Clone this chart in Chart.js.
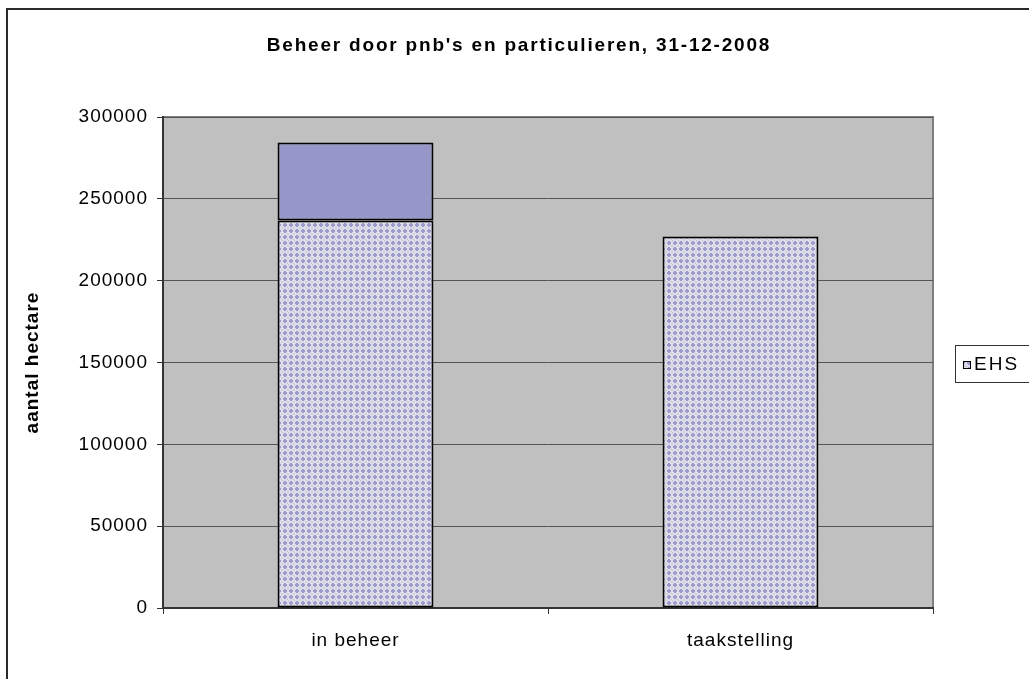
<!DOCTYPE html>
<html>
<head>
<meta charset="utf-8">
<style>
  html, body { margin: 0; padding: 0; background: #fff; }
  #wrap { width: 1029px; height: 679px; position: relative; }
</style>
<script src="https://cdn.jsdelivr.net/npm/chart.js@4/dist/chart.umd.min.js"></script>
</head>
<body>
<div id="wrap"><canvas id="chart" width="1029" height="679"></canvas></div>
<script>
// data
const categories = ['in beheer', 'taakstelling'];
const ehsValues = [236800, 227000];
const extraValues = [47600, 0];
const yTicks = [0, 50000, 100000, 150000, 200000, 250000, 300000];
const chartTitle = "Beheer door pnb's en particulieren, 31-12-2008";

const FONT = "'Liberation Sans', Arial, sans-serif";

// small lavender checker like the excel fill
function makePattern() {
  const c = document.createElement('canvas');
  c.width = 6; c.height = 6;
  const g = c.getContext('2d');
  g.fillStyle = '#dedeea';
  g.fillRect(0, 0, 6, 6);
  g.fillStyle = '#9c9ccd';
  g.fillRect(2, 1, 2, 4);
  g.fillRect(1, 2, 4, 2);
  g.fillStyle = '#c4c4c8';
  g.fillRect(0, 0, 1, 1);
  g.fillRect(5, 5, 1, 1);
  return g.createPattern(c, 'repeat');
}
const ehsFill = makePattern();

// the excel text is a bit stretched, letter spacing gets close to it
function spacing(chart) {
  chart.ctx.letterSpacing = '1px';
}

const decorations = {
  id: 'decorations',
  beforeLayout(chart) { spacing(chart); },
  beforeDraw(chart) {
    spacing(chart);
    const ctx = chart.ctx;
    const a = chart.chartArea;
    ctx.save();
    ctx.fillStyle = '#c0c0c0';
    ctx.fillRect(a.left, a.top, a.right - a.left, a.bottom - a.top);
    ctx.strokeStyle = '#808080';
    ctx.lineWidth = 2;
    ctx.beginPath();
    ctx.moveTo(a.left, a.top);
    ctx.lineTo(a.right, a.top);
    ctx.lineTo(a.right, a.bottom);
    ctx.stroke();
    ctx.restore();
  },
  afterDraw(chart) {
    const ctx = chart.ctx;
    ctx.save();
    // outer chart border
    ctx.strokeStyle = '#2a2a2a';
    ctx.lineWidth = 2;
    ctx.strokeRect(7, 9, 1100, 1000);
    // title
    ctx.fillStyle = '#000';
    ctx.font = 'bold 19px ' + FONT;
    ctx.letterSpacing = '1.8px';
    ctx.textAlign = 'center';
    ctx.textBaseline = 'middle';
    ctx.fillText(chartTitle, 519, 46);
    // legend
    ctx.strokeStyle = '#333';
    ctx.lineWidth = 1;
    ctx.fillStyle = '#fff';
    ctx.fillRect(955.5, 345.5, 100, 37);
    ctx.strokeRect(955.5, 345.5, 100, 37);
    ctx.fillStyle = ehsFill;
    ctx.fillRect(963, 361, 8, 8);
    ctx.strokeStyle = '#000';
    ctx.strokeRect(963.5, 361.5, 7, 7);
    ctx.fillStyle = '#000';
    ctx.font = '19px ' + FONT;
    ctx.letterSpacing = '2px';
    ctx.textAlign = 'left';
    ctx.fillText(chart.data.datasets[0].label, 974, 365);
    ctx.restore();
  }
};

new Chart(document.getElementById('chart'), {
  type: 'bar',
  data: {
    labels: categories,
    datasets: [
      {
        label: 'EHS',
        data: ehsValues,
        backgroundColor: ehsFill,
        borderColor: '#000',
        borderWidth: 2,
        borderSkipped: false,
        categoryPercentage: 0.81,
        barPercentage: 0.5
      },
      {
        label: 'overig',
        data: extraValues,
        backgroundColor: '#9696c8',
        borderColor: '#000',
        borderWidth: 2,
        borderSkipped: false,
        categoryPercentage: 0.81,
        barPercentage: 0.5
      }
    ]
  },
  options: {
    responsive: false,
    animation: false,
    layout: { padding: { left: 0, right: 96, top: 117, bottom: 0 } },
    plugins: {
      legend: { display: false },
      tooltip: { enabled: false },
      title: { display: false }
    },
    scales: {
      x: {
        stacked: true,
        afterFit(scale) { scale.height = 71; },
        grid: {
          drawOnChartArea: false,
          color: '#333',
          tickLength: 6,
          tickColor: '#333'
        },
        border: { color: '#333', width: 2 },
        ticks: {
          color: '#000',
          font: { family: FONT, size: 19 },
          padding: 15
        }
      },
      y: {
        stacked: true,
        min: 0,
        max: 300000,
        afterFit(scale) { scale.width = 163; },
        afterBuildTicks(scale) { scale.ticks = yTicks.map(v => ({ value: v })); },
        grid: {
          color: '#555',
          lineWidth: 1,
          tickLength: 6,
          tickColor: '#333'
        },
        border: { color: '#333', width: 2 },
        ticks: {
          color: '#000',
          font: { family: FONT, size: 19 },
          padding: 9,
          callback: v => String(v)
        },
        title: {
          display: true,
          text: 'aantal hectare',
          color: '#000',
          font: { family: FONT, size: 19, weight: 'bold' },
          padding: { top: 21, bottom: 0 }
        }
      }
    }
  },
  plugins: [decorations]
});
</script>
</body>
</html>
